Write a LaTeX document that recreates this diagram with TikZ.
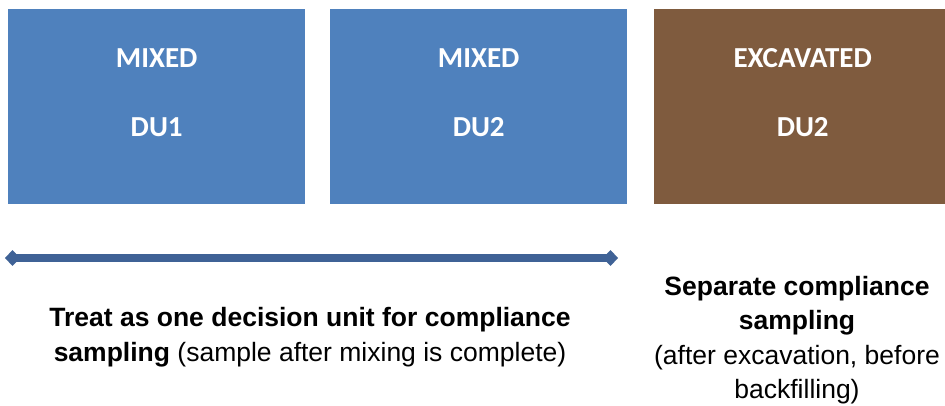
\documentclass[tikz,border=0pt]{standalone}
\usepackage{fontspec}
\setmainfont{Liberation Sans}
\newfontfamily\boxfont{Carlito}
\usetikzlibrary{arrows.meta}
\definecolor{boxblue}{HTML}{4F81BD}
\definecolor{boxbrown}{HTML}{7F5B3E}
\definecolor{arrblue}{HTML}{3F6296}
\begin{document}
\begin{tikzpicture}[x=1pt,y=-1pt,
  du/.style={minimum width=297pt,minimum height=195pt,inner sep=0pt,anchor=north west},
  dutext/.style={text=white,font=\boxfont\bfseries\fontsize{29}{69}\selectfont,align=center},
  note/.style={font=\fontsize{26.5}{34.5}\selectfont,align=center,text=black}]
\useasboundingbox (0,0) rectangle (945,406);
\begin{scope}
\clip (0,0) rectangle (945,406);
\node[du,fill=boxblue] (du1) at (8,9) {};
\node[du,fill=boxblue] (du2) at (330,9) {};
\node[du,fill=boxbrown] (du3) at (654,9) {};
\end{scope}
\node[dutext] (du1t) at ([yshift=14pt]du1.center) {MIXED\\DU1};
\node[dutext] (du2t) at ([yshift=14pt]du2.center) {MIXED\\DU2};
\node[dutext] (du3t) at ([yshift=14pt]du3.center) {EXCAVATED\\DU2};
\coordinate (al) at (5,258);
\coordinate (ar) at (618,258);
\draw[arrblue,line width=8pt,{Diamond[length=15pt,width=16pt]}-{Diamond[length=15pt,width=16pt]}] (al) -- (ar);
\node[note] (left) at (310,337) {\textbf{Treat as one decision unit for compliance}\\\textbf{sampling} (sample after mixing is complete)};
\node[note] (right) at (797,340) {\textbf{Separate compliance}\\\textbf{sampling}\\(after excavation, before\\backfilling)};
\end{tikzpicture}
\end{document}
